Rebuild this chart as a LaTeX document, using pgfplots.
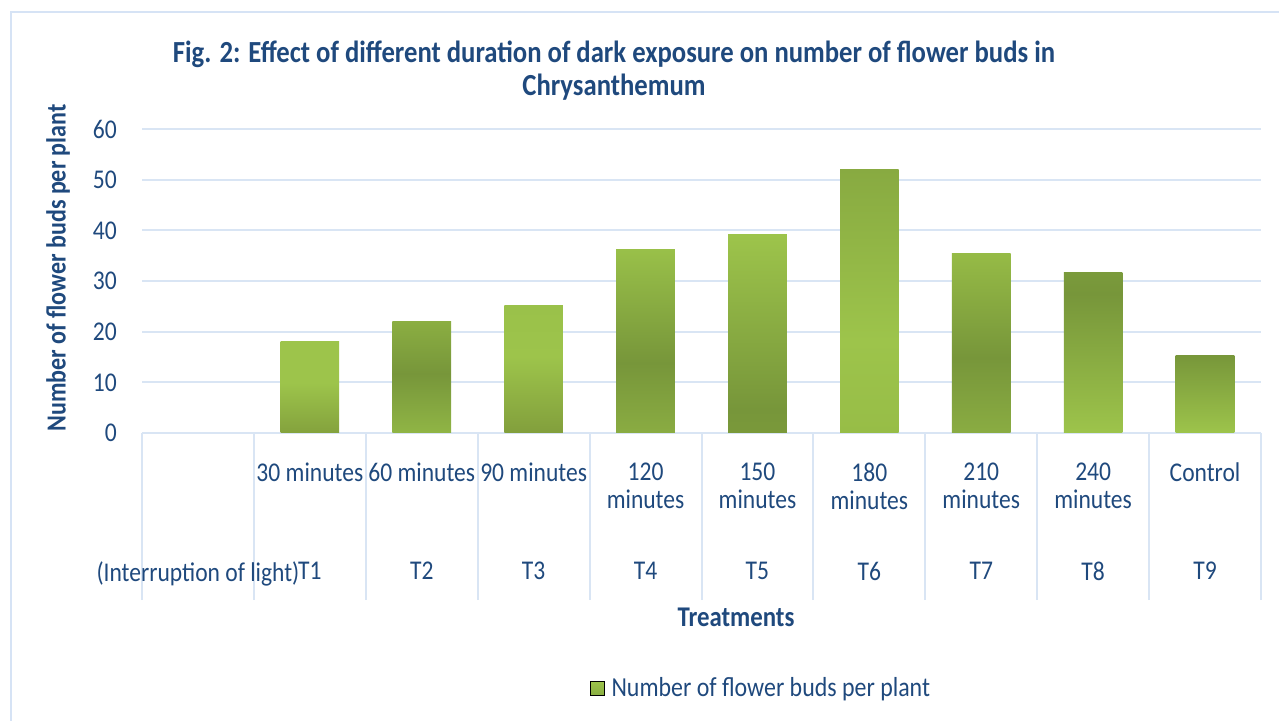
\documentclass[border=0pt]{standalone}
\usepackage{fontspec}
\setmainfont{Carlito}[FakeStretch=0.87]
\usepackage{pgfplots}
\pgfplotsset{compat=1.18}

\definecolor{txt}{HTML}{1F497D}
\definecolor{gridc}{HTML}{D9E5F4}
\definecolor{bordc}{HTML}{D6E3F5}
\definecolor{L}{HTML}{9DC44B}
\definecolor{D}{HTML}{77963A}
\definecolor{ca}{HTML}{84A23D}
\definecolor{cb0}{HTML}{90B545}
\definecolor{cb1}{HTML}{8BAE42}
\definecolor{cc0}{HTML}{829F3C}
\definecolor{cc1}{HTML}{9AC14A}
\definecolor{cd0}{HTML}{8AAC42}
\definecolor{cd1}{HTML}{99C049}
\definecolor{ce0}{HTML}{7A993A}
\definecolor{cf0}{HTML}{97BD47}
\definecolor{cf1}{HTML}{88AA41}
\definecolor{cg1}{HTML}{96BB46}
\definecolor{ch1}{HTML}{7A9A3B}
\definecolor{ci1}{HTML}{78973A}
\definecolor{leg0}{HTML}{8AAE42}

\pgfdeclareverticalshading{sA}{100bp}{color(0bp)=(ca); color(25bp)=(ca); color(52.5bp)=(L); color(75bp)=(L); color(100bp)=(L)}
\pgfdeclareverticalshading{sB}{100bp}{color(0bp)=(cb0); color(25bp)=(cb0); color(51.5bp)=(D); color(75bp)=(cb1); color(100bp)=(cb1)}
\pgfdeclareverticalshading{sC}{100bp}{color(0bp)=(cc0); color(25bp)=(cc0); color(55bp)=(L); color(75bp)=(cc1); color(100bp)=(cc1)}
\pgfdeclareverticalshading{sD}{100bp}{color(0bp)=(cd0); color(25bp)=(cd0); color(44bp)=(D); color(75bp)=(cd1); color(100bp)=(cd1)}
\pgfdeclareverticalshading{sE}{100bp}{color(0bp)=(ce0); color(25bp)=(ce0); color(31bp)=(D); color(75bp)=(L); color(100bp)=(L)}
\pgfdeclareverticalshading{sF}{100bp}{color(0bp)=(cf0); color(25bp)=(cf0); color(42.5bp)=(L); color(75bp)=(cf1); color(100bp)=(cf1)}
\pgfdeclareverticalshading{sG}{100bp}{color(0bp)=(cd0); color(25bp)=(cd0); color(46bp)=(D); color(75bp)=(cg1); color(100bp)=(cg1)}
\pgfdeclareverticalshading{sH}{100bp}{color(0bp)=(L); color(25bp)=(L); color(68.5bp)=(D); color(75bp)=(ch1); color(100bp)=(ch1)}
\pgfdeclareverticalshading{sI}{100bp}{color(0bp)=(L); color(25bp)=(L); color(75bp)=(ci1); color(100bp)=(ci1)}

\newcommand\fs{\fontsize{20.3pt}{21.6pt}\selectfont}

\begin{document}
\begin{tikzpicture}[x=1pt,y=1pt]
\path[use as bounding box] (0,0) rectangle (959.25,540.75);
\draw[color=bordc, line width=1.6pt] (8.25,0) -- (8.25,531.75) -- (959.25,531.75);
\begin{axis}[
  at={(106.5pt,216pt)}, anchor=south west,
  scale only axis, width=839.25pt, height=228pt,
  xmin=-0.5, xmax=9.5, ymin=0, ymax=60,
  ytick={0,10,...,60},
  xtick={0,...,9},
  xticklabels={{},{30 minutes},{60 minutes},{90 minutes},{120\\minutes},{150\\minutes},{180\\minutes},{210\\minutes},{240\\minutes},{Control}},
  minor xtick={-0.5,0.5,...,9.5},
  major tick length=0pt,
  minor tick length=125.25pt,
  tick align=outside,
  xtick pos=left, ytick pos=left,
  minor tick style={draw=gridc, line width=1.5pt},
  major tick style={draw=none},
  axis line style={draw=none},
  ymajorgrids,
  grid style={draw=gridc, line width=1.5pt},
  /pgf/number format/assume math mode=true,
  tick label style={font=\fs, text=txt},
  yticklabel style={inner sep=0pt, xshift=-18.75pt},
  xticklabel style={inner sep=0pt, anchor=north, align=center, yshift=-22pt},
  extra x ticks={0,...,9},
  extra x tick labels={{(Interruption of light)},T1,T2,T3,T4,T5,T6,T7,T8,T9},
  extra x tick style={major tick length=0pt, major tick style={draw=none}, xticklabel style={yshift=-74.5pt}},
  legend style={at={(0.4004,-0.839)}, anchor=west, draw=none, fill=none, font=\fontsize{20.6pt}{22pt}\selectfont, text=txt, inner sep=0pt},
  legend cell align=left,
  mybar/.style={ybar, bar width=44pt, bar shift=0pt, draw=none, forget plot},
]
\addlegendimage{legend image code/.code={\path[top color=L, bottom color=leg0] (0pt,-5.25pt) rectangle (10.5pt,5.25pt);}}
\addlegendentry{\hspace{3pt}Number of flower buds per plant}
\addplot[mybar, shade, shading=sA] coordinates {(1,18)};
\addplot[mybar, shade, shading=sB] coordinates {(2,22.1)};
\addplot[mybar, shade, shading=sC] coordinates {(3,25.1)};
\addplot[mybar, shade, shading=sD] coordinates {(4,36.3)};
\addplot[mybar, shade, shading=sE] coordinates {(5,39.1)};
\addplot[mybar, shade, shading=sF] coordinates {(6,52.1)};
\addplot[mybar, shade, shading=sG] coordinates {(7,35.5)};
\addplot[mybar, shade, shading=sH] coordinates {(8,31.6)};
\addplot[mybar, shade, shading=sI] coordinates {(9,15.2)};
\end{axis}
\node[anchor=base, text=txt, font=\fontsize{23pt}{25pt}\selectfont\bfseries] at (460.5,494) {Fig. 2: Effect of different duration of dark exposure on number of flower buds in};
\node[anchor=base, text=txt, font=\fontsize{23pt}{25pt}\selectfont\bfseries] at (460.5,469.25) {Chrysanthemum};
\node[text=txt, font=\fontsize{21.4pt}{23pt}\selectfont\bfseries] at (552,78) {Treatments};
\node[rotate=90, text=txt, font=\fontsize{20.7pt}{22pt}\selectfont\bfseries] at (43.5,339.75) {Number of flower buds per plant};
\end{tikzpicture}
\end{document}
